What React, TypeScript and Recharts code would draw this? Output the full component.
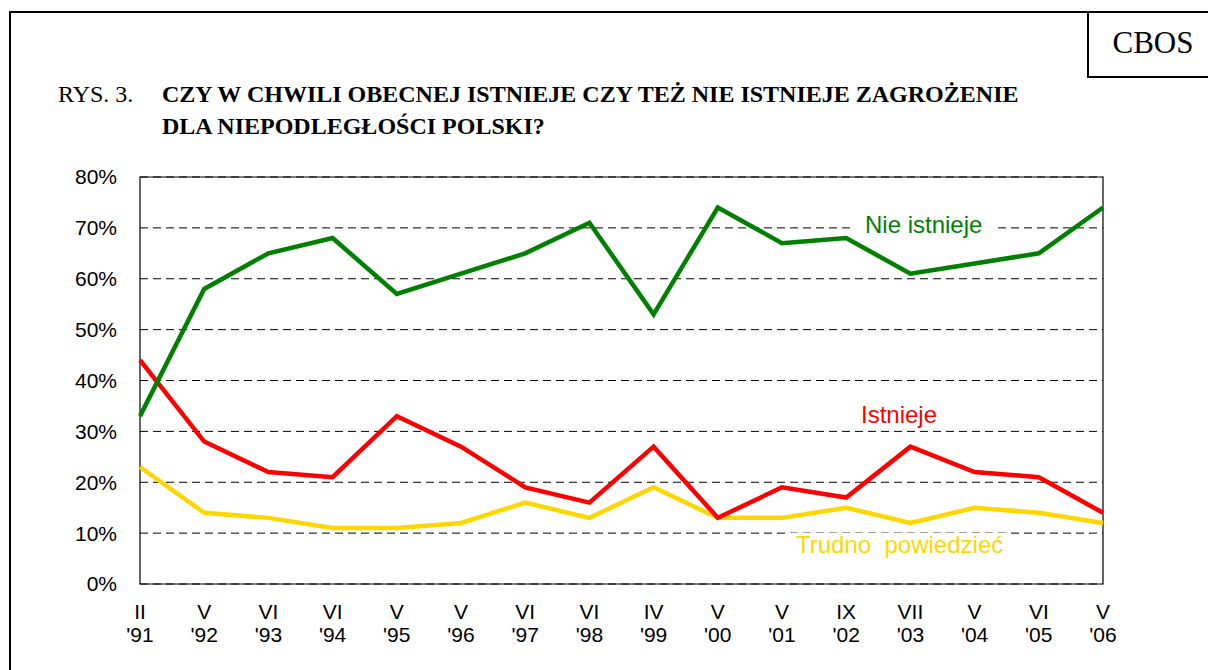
import { LineChart, Line, XAxis, YAxis, CartesianGrid, ReferenceArea } from "recharts";

const MONTHS = ["II", "V", "VI", "VI", "V", "V", "VI", "VI", "IV", "V", "V", "IX", "VII", "V", "VI", "V"];
const YEARS = ["'91", "'92", "'93", "'94", "'95", "'96", "'97", "'98", "'99", "'00", "'01", "'02", "'03", "'04", "'05", "'06"];

const NIE_ISTNIEJE = [33, 58, 65, 68, 57, 61, 65, 71, 53, 74, 67, 68, 61, 63, 65, 74];
const ISTNIEJE = [44, 28, 22, 21, 33, 27, 19, 16, 27, 13, 19, 17, 27, 22, 21, 14];
const TRUDNO = [23, 14, 13, 11, 11, 12, 16, 13, 19, 13, 13, 15, 12, 15, 14, 12];

const Y_TICKS = [0, 10, 20, 30, 40, 50, 60, 70, 80];

const GREEN = "#008000";
const RED = "#FF0000";
const YELLOW = "#FFD700";

const SANS = "Arial, 'Liberation Sans', sans-serif";
const SERIF = "'Times New Roman', 'Liberation Serif', serif";

const data = MONTHS.map((m, i) => ({
  cat: `${m} ${YEARS[i]}`,
  nie: NIE_ISTNIEJE[i],
  ist: ISTNIEJE[i],
  trudno: TRUDNO[i],
}));

// eslint-disable-next-line @typescript-eslint/no-explicit-any
function TwoLineTick({ x, y, payload }: any) {
  const [month, year] = String(payload.value).split(" ");
  return (
    <text x={x} y={y} textAnchor="middle" fontSize={21} fontFamily={SANS} fill="#000">
      <tspan x={x} y={y + 35}>{month}</tspan>
      <tspan x={x} y={y + 58}>{year}</tspan>
    </text>
  );
}

function SeriesLabel({ x, y, w, text, color }: { x: number; y: number; w: number; text: string; color: string }) {
  return (
    <g>
      <rect x={x - 10} y={y - 20} width={w + 20} height={27} fill="#fff" />
      <text x={x} y={y} fontSize={24} fontFamily={SANS} fill={color} style={{ whiteSpace: "pre" }}>
        {text}
      </text>
    </g>
  );
}

export default function App() {
  return (
    <div
      style={{
        position: "absolute",
        left: 0,
        top: 0,
        width: 1208,
        height: 670,
        overflow: "hidden",
        background: "#fff",
      }}
    >
      <LineChart
        width={1208}
        height={670}
        data={data}
        margin={{ top: 177, right: 105, bottom: 26, left: 70 }}
      >
        <CartesianGrid vertical={false} stroke="#000" strokeDasharray="8 5" />
        <XAxis
          dataKey="cat"
          scale="point"
          interval={0}
          height={60}
          tickLine={false}
          axisLine={false}
          tickSize={0}
          tickMargin={0}
          tick={<TwoLineTick />}
        />
        <YAxis
          domain={[0, 80]}
          ticks={Y_TICKS}
          width={70}
          tickLine={false}
          axisLine={false}
          tickSize={0}
          tickMargin={23}
          tickFormatter={(v) => `${v}%`}
          tick={{ fontSize: 21, fontFamily: SANS, fill: "#000" }}
        />
        <ReferenceArea
          x1={data[0].cat}
          x2={data[data.length - 1].cat}
          y1={0}
          y2={80}
          fill="none"
          stroke="#000"
          strokeWidth={1.2}
        />
        <Line dataKey="trudno" stroke={YELLOW} strokeWidth={4.5} dot={false} isAnimationActive={false} />
        <Line dataKey="ist" stroke={RED} strokeWidth={4.5} dot={false} isAnimationActive={false} />
        <Line dataKey="nie" stroke={GREEN} strokeWidth={4.5} dot={false} isAnimationActive={false} />
      </LineChart>

      <svg
        width={1208}
        height={670}
        style={{ position: "absolute", left: 0, top: 0, pointerEvents: "none" }}
      >
        {/* frame of the page and the CBOS box */}
        <line x1={10} y1={12} x2={1208} y2={12} stroke="#000" strokeWidth={2} />
        <line x1={10} y1={11} x2={10} y2={670} stroke="#000" strokeWidth={2} />
        <line x1={1088} y1={12} x2={1088} y2={77} stroke="#000" strokeWidth={2} />
        <line x1={1087} y1={77} x2={1208} y2={77} stroke="#000" strokeWidth={2} />
        <text x={1153} y={53} textAnchor="middle" fontSize={31} fontFamily={SERIF} fill="#000">
          CBOS
        </text>

        <text x={58} y={102} fontSize={24} fontFamily={SERIF} fill="#000">
          RYS. 3.
        </text>
        <text x={162} y={102} fontSize={24} fontWeight="bold" fontFamily={SERIF} fill="#000">
          CZY W CHWILI OBECNEJ ISTNIEJE CZY TEŻ NIE ISTNIEJE ZAGROŻENIE
        </text>
        <text x={162} y={134} fontSize={24} fontWeight="bold" fontFamily={SERIF} fill="#000">
          DLA NIEPODLEGŁOŚCI POLSKI?
        </text>

        <SeriesLabel x={865} y={233} w={118} text="Nie istnieje" color={GREEN} />
        <SeriesLabel x={861} y={423} w={76} text="Istnieje" color={RED} />
        <SeriesLabel x={796} y={553} w={205} text="Trudno  powiedzieć" color={YELLOW} />
      </svg>
    </div>
  );
}
